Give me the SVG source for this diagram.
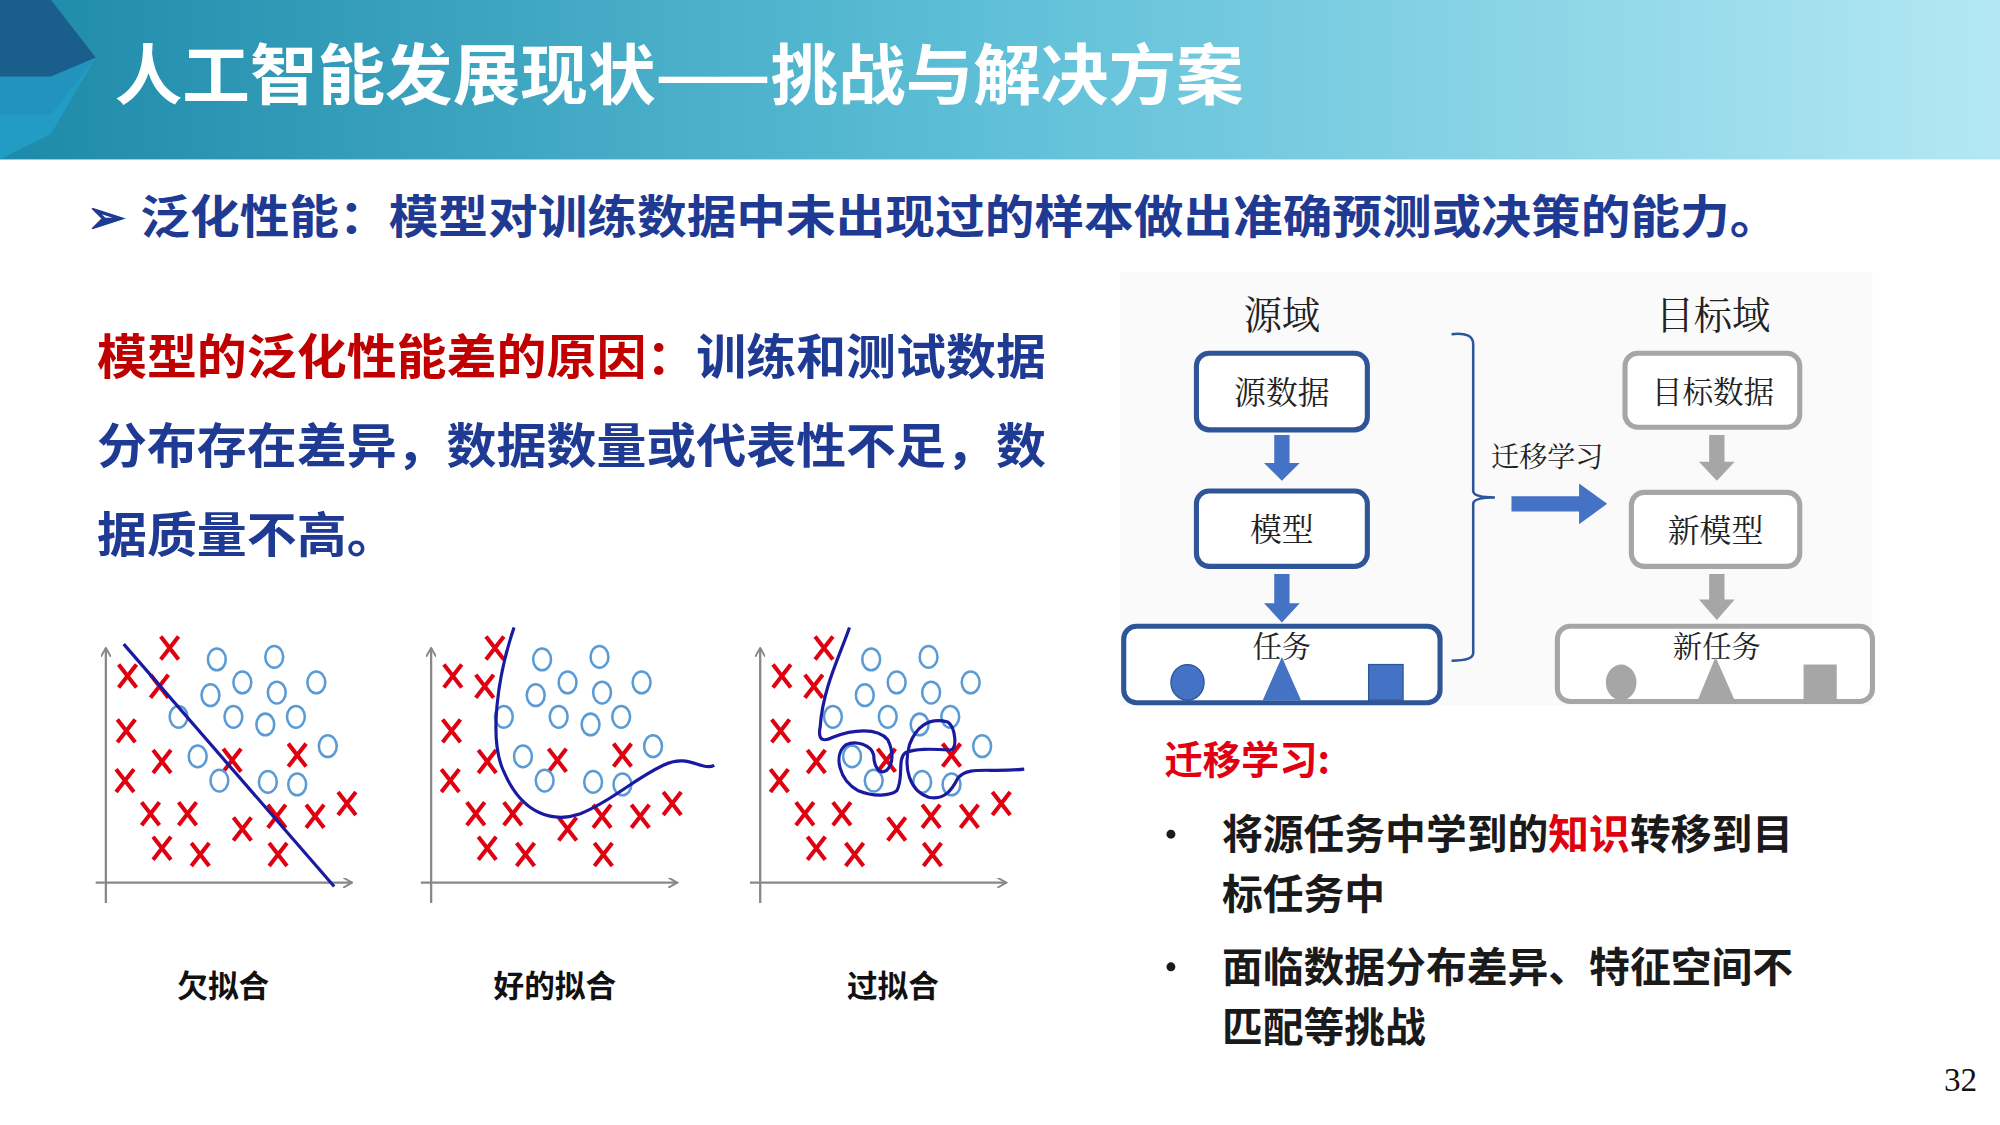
<svg xmlns="http://www.w3.org/2000/svg" xmlns:xlink="http://www.w3.org/1999/xlink" width="2000" height="1125" viewBox="0 0 2000 1125">
<defs>
<linearGradient id="hg" x1="0" y1="0" x2="1" y2="0"><stop offset="0" stop-color="#1d8aa9"/><stop offset="0.5" stop-color="#5fc0d8"/><stop offset="1" stop-color="#b3e8f3"/></linearGradient>
<g id="x"><path d="M-7,-9 L7,9 M7,-9 L-7,9" stroke="#e00010" stroke-width="3.2" fill="none"/></g>
<g id="o"><ellipse rx="7" ry="8.5" fill="none" stroke="#5b9bd5" stroke-width="2"/></g>
<marker id="ah" markerWidth="8" markerHeight="8" refX="7" refY="4" orient="auto" markerUnits="userSpaceOnUse"><path d="M0,0 L7,4 L0,8" fill="none" stroke="#888" stroke-width="1.5"/></marker>
<style>
.t{font-family:"Noto Sans CJK SC","Liberation Sans",sans-serif;font-weight:bold}
.s{font-family:"Noto Serif CJK SC","Noto Sans CJK SC",serif;fill:#222}
.bb{fill:#fff;stroke:#2e5597;stroke-width:4}
.gb{fill:#fff;stroke:#a6a6a6;stroke-width:4}
.ax{stroke:#888;stroke-width:1.8;fill:none}
.cv{stroke:#1a1aa0;stroke-width:2.5;fill:none}
</style>
</defs>
<g transform="scale(1.27551)">
<rect width="1568" height="882" fill="#fff"/>
<g id="header">
<rect width="1568" height="125" fill="url(#hg)"/>
<path d="M0,0 L40,0 L75,45 L40,90 L0,90 Z" fill="#1a5e8c"/>
<path d="M0,60 L40,60 L75,45 L40,105 L0,125 Z" fill="#23a0c8" opacity="0.8"/>
<text x="90" y="78" class="t" font-size="52" fill="#fff" textLength="885" lengthAdjust="spacingAndGlyphs">人工智能发展现状——挑战与解决方案</text>
</g>
<g id="subtitle">
<text x="68" y="183" class="t" font-size="36" fill="#1f3a93">➢</text>
<text x="110" y="183" class="t" font-size="36" fill="#1f3a93" textLength="1285" lengthAdjust="spacingAndGlyphs">泛化性能：模型对训练数据中未出现过的样本做出准确预测或决策的能力。</text>
</g>
<g id="reason" class="t" font-size="37" fill="#1f3a93">
<text x="76" y="293" textLength="744" lengthAdjust="spacingAndGlyphs"><tspan fill="#c00000">模型的泛化性能差的原因：</tspan>训练和测试数据</text>
<text x="76" y="363" textLength="744" lengthAdjust="spacingAndGlyphs">分布存在差异，数据数量或代表性不足，数</text>
<text x="76" y="433" textLength="235" lengthAdjust="spacingAndGlyphs">据质量不高。</text>
</g>
<g id="plot1">
<path class="ax" d="M83,708 V508" marker-end="url(#ah)"/><path class="ax" d="M75,692 H276" marker-end="url(#ah)"/>
<use href="#x" x="100" y="530"/><use href="#x" x="133" y="508"/><use href="#x" x="125" y="538"/><use href="#x" x="99" y="573"/><use href="#x" x="127" y="597"/><use href="#x" x="98" y="612"/><use href="#x" x="182" y="596"/><use href="#x" x="233" y="592"/><use href="#x" x="118" y="638"/><use href="#x" x="147" y="638"/><use href="#x" x="190" y="650"/><use href="#x" x="217" y="640"/><use href="#x" x="247" y="640"/><use href="#x" x="272" y="630"/><use href="#x" x="127" y="665"/><use href="#x" x="157" y="670"/><use href="#x" x="218" y="670"/>
<use href="#o" x="170" y="517"/><use href="#o" x="215" y="515"/><use href="#o" x="190" y="535"/><use href="#o" x="165" y="545"/><use href="#o" x="217" y="543"/><use href="#o" x="248" y="535"/><use href="#o" x="140" y="562"/><use href="#o" x="183" y="562"/><use href="#o" x="208" y="568"/><use href="#o" x="232" y="562"/><use href="#o" x="155" y="593"/><use href="#o" x="257" y="585"/><use href="#o" x="172" y="612"/><use href="#o" x="210" y="613"/><use href="#o" x="233" y="615"/>
<path class="cv" d="M97,505 L262,695"/>
<text x="175" y="782" class="t" font-size="24" fill="#111" text-anchor="middle">欠拟合</text>
</g>
<g id="plot2" transform="translate(255,0)">
<path class="ax" d="M83,708 V508" marker-end="url(#ah)"/><path class="ax" d="M75,692 H276" marker-end="url(#ah)"/>
<use href="#x" x="100" y="530"/><use href="#x" x="133" y="508"/><use href="#x" x="125" y="538"/><use href="#x" x="99" y="573"/><use href="#x" x="127" y="597"/><use href="#x" x="98" y="612"/><use href="#x" x="182" y="596"/><use href="#x" x="233" y="592"/><use href="#x" x="118" y="638"/><use href="#x" x="147" y="638"/><use href="#x" x="190" y="650"/><use href="#x" x="217" y="640"/><use href="#x" x="247" y="640"/><use href="#x" x="272" y="630"/><use href="#x" x="127" y="665"/><use href="#x" x="157" y="670"/><use href="#x" x="218" y="670"/>
<use href="#o" x="170" y="517"/><use href="#o" x="215" y="515"/><use href="#o" x="190" y="535"/><use href="#o" x="165" y="545"/><use href="#o" x="217" y="543"/><use href="#o" x="248" y="535"/><use href="#o" x="140" y="562"/><use href="#o" x="183" y="562"/><use href="#o" x="208" y="568"/><use href="#o" x="232" y="562"/><use href="#o" x="155" y="593"/><use href="#o" x="257" y="585"/><use href="#o" x="172" y="612"/><use href="#o" x="210" y="613"/><use href="#o" x="233" y="615"/>
<path class="cv" d="M148,492 C135,530 128,580 140,605 C155,640 180,645 200,638 C225,628 240,612 265,600 C285,590 295,605 305,600"/>
<text x="180" y="782" class="t" font-size="24" fill="#111" text-anchor="middle">好的拟合</text>
</g>
<g id="plot3" transform="translate(513,0)">
<path class="ax" d="M83,708 V508" marker-end="url(#ah)"/><path class="ax" d="M75,692 H276" marker-end="url(#ah)"/>
<use href="#x" x="100" y="530"/><use href="#x" x="133" y="508"/><use href="#x" x="125" y="538"/><use href="#x" x="99" y="573"/><use href="#x" x="127" y="597"/><use href="#x" x="98" y="612"/><use href="#x" x="182" y="596"/><use href="#x" x="233" y="592"/><use href="#x" x="118" y="638"/><use href="#x" x="147" y="638"/><use href="#x" x="190" y="650"/><use href="#x" x="217" y="640"/><use href="#x" x="247" y="640"/><use href="#x" x="272" y="630"/><use href="#x" x="127" y="665"/><use href="#x" x="157" y="670"/><use href="#x" x="218" y="670"/>
<use href="#o" x="170" y="517"/><use href="#o" x="215" y="515"/><use href="#o" x="190" y="535"/><use href="#o" x="165" y="545"/><use href="#o" x="217" y="543"/><use href="#o" x="248" y="535"/><use href="#o" x="140" y="562"/><use href="#o" x="183" y="562"/><use href="#o" x="208" y="568"/><use href="#o" x="232" y="562"/><use href="#o" x="155" y="593"/><use href="#o" x="257" y="585"/><use href="#o" x="172" y="612"/><use href="#o" x="210" y="613"/><use href="#o" x="233" y="615"/>
<path class="cv" d="M153,492 C145,515 132,540 130,570 C128,580 132,582 140,578 C155,572 175,570 183,580 C188,590 187,600 182,604 C176,608 172,600 172,592 C170,584 158,580 150,584 C140,592 145,612 160,620 C172,625 185,624 190,620 C196,610 190,595 197,590 C205,587 215,587 232,588 C238,588 236,570 230,566 C215,562 205,570 200,584 C195,602 200,620 215,625 C228,628 234,618 238,610 C246,600 262,606 290,603"/>
<text x="187" y="782" class="t" font-size="24" fill="#111" text-anchor="middle">过拟合</text>
</g>
<g id="transfer">
<rect x="878" y="213" width="590" height="340" fill="#fafafa"/>
<text x="1005" y="258" class="s" font-size="30" text-anchor="middle">源域</text>
<text x="1343" y="258" class="s" font-size="30" text-anchor="middle">目标域</text>
<g id="n-src"><rect x="938" y="277" width="134" height="60" rx="10" class="bb"/><text x="1005" y="317" class="s" font-size="25" text-anchor="middle">源数据</text></g>
<g id="n-model"><rect x="938" y="385" width="134" height="59" rx="10" class="bb"/><text x="1005" y="424" class="s" font-size="25" text-anchor="middle">模型</text></g>
<g id="n-task"><rect x="881" y="491" width="248" height="60" rx="10" class="bb"/><text x="1005" y="515" class="s" font-size="23" text-anchor="middle">任务</text>
<ellipse cx="931" cy="535" rx="13" ry="14" fill="#4472c4" stroke="#2e5597"/><path d="M990,549 L1005,515 L1020,549 Z" fill="#4472c4"/><rect x="1073" y="521" width="27" height="28" fill="#4472c4" stroke="#2e5597"/></g>
<g id="n-tdata"><rect x="1274" y="277" width="137" height="58" rx="10" class="gb"/><text x="1343" y="316" class="s" font-size="24" text-anchor="middle">目标数据</text></g>
<g id="n-nmodel"><rect x="1279" y="386" width="132" height="58" rx="10" class="gb"/><text x="1345" y="425" class="s" font-size="25" text-anchor="middle">新模型</text></g>
<g id="n-ntask"><rect x="1221" y="491" width="247" height="59" rx="10" class="gb"/><text x="1346" y="515" class="s" font-size="23" text-anchor="middle">新任务</text>
<ellipse cx="1271" cy="535" rx="12" ry="14" fill="#a6a6a6"/><path d="M1331,549 L1345,515 L1360,549 Z" fill="#a6a6a6"/><rect x="1414" y="521" width="26" height="28" fill="#a6a6a6"/></g>
<g id="connectors">
<path d="M999,341 H1011 V363 H1019 L1005,377 L991,363 H999 Z" fill="#4472c4"/>
<path d="M999,450 H1011 V473 H1019 L1005,488 L991,473 H999 Z" fill="#4472c4"/>
<path d="M1340,341 H1352 V362 H1360 L1346,377 L1332,362 H1340 Z" fill="#a6a6a6"/>
<path d="M1340,450 H1352 V470 H1360 L1346,486 L1332,470 H1340 Z" fill="#a6a6a6"/>
<path d="M1138,262 Q1155,260 1155,270 V385 Q1155,390 1172,390 Q1155,390 1155,395 V512 Q1155,518 1138,518" fill="none" stroke="#2e5597" stroke-width="2"/>
<path d="M1185,389 H1238 V379 L1260,395 L1238,411 V401 H1185 Z" fill="#4472c4"/>
<text x="1213" y="366" class="s" font-size="22" text-anchor="middle">迁移学习</text>
</g>
</g>
<g id="tl" class="t" fill="#1a1a1a">
<text x="913" y="607" font-size="30" fill="#e00010">迁移学习:</text>
<circle cx="918" cy="654" r="3.5"/>
<text x="958" y="666" font-size="32">将源任务中学到的<tspan fill="#e00010">知识</tspan>转移到目</text>
<text x="958" y="713" font-size="32">标任务中</text>
<circle cx="918" cy="758" r="3.5"/>
<text x="958" y="770" font-size="32">面临数据分布差异、特征空间不</text>
<text x="958" y="817" font-size="32">匹配等挑战</text>
</g>
<text x="1537" y="855" font-family="Liberation Serif,serif" font-size="26" fill="#111" text-anchor="middle">32</text>
</g>
</svg>
